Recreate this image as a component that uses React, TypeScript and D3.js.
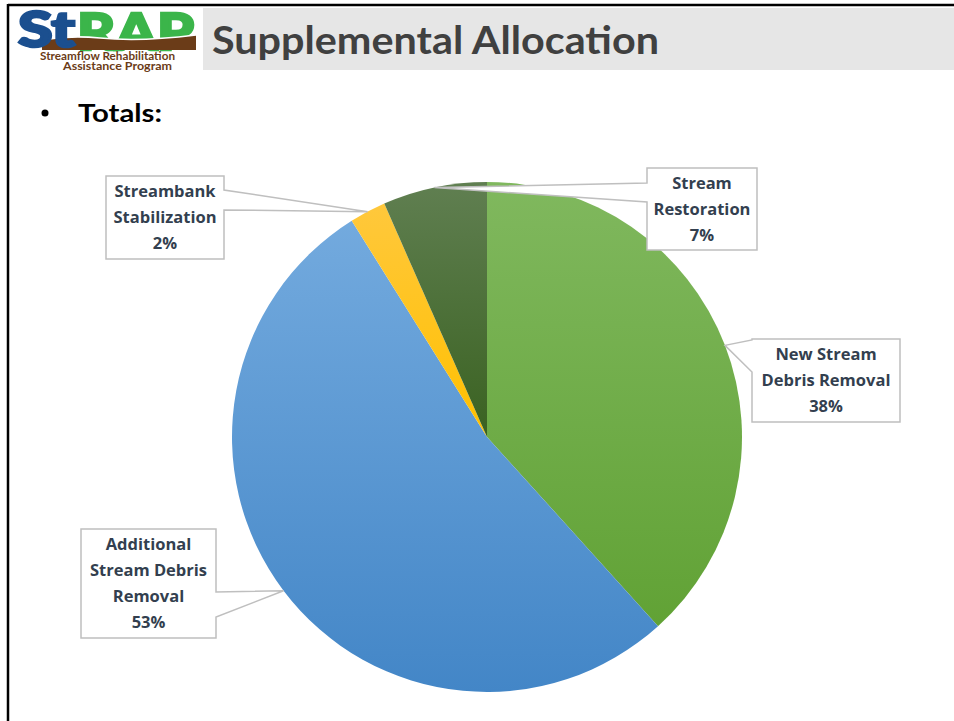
import React from "react";
import * as d3 from "d3";

const categories = [
  "New Stream Debris Removal",
  "Additional Stream Debris Removal",
  "Streambank Stabilization",
  "Stream Restoration",
];
const values = [38.3, 52.8, 2.3, 6.6];
const labelLines = [
  ["New Stream", "Debris Removal"],
  ["Additional", "Stream Debris", "Removal"],
  ["Streambank", "Stabilization"],
  ["Stream", "Restoration"],
];
const gradTop = ["#80b85e", "#73aade", "#ffc83c", "#607f51"];
const gradBottom = ["#61a235", "#4386c7", "#ffc000", "#3a6221"];

// callout layout: box and wedge base on an edge
const callouts = [
  { x: 752, y: 339, w: 148, h: 83, side: "left", a1: 340, a2: 372 },
  { x: 81, y: 529, w: 135, h: 109, side: "right", a1: 592, a2: 617 },
  { x: 106, y: 176, w: 118, h: 83, side: "right", a1: 190, a2: 210 },
  { x: 647, y: 168, w: 110, h: 82, side: "left", a1: 183, a2: 202 },
];

const W = 954;
const H = 721;
const cx = 487;
const cy = 437;
const R = 255;

export default function App() {
  const total = d3.sum(values);
  const pie = d3.pie<number>().sort(null).value((d) => d);
  const arcs = pie(values);
  const arc = d3.arc<d3.PieArcDatum<number>>().innerRadius(0).outerRadius(R);
  const edge = d3.arc<d3.PieArcDatum<number>>().innerRadius(R).outerRadius(R);
  const font = "Lato, 'Open Sans', sans-serif";
  const labelFont = "'Open Sans', Lato, sans-serif";
  const textColor = "#333f4f";

  return (
    <svg
      width={W}
      height={H}
      style={{ position: "absolute", left: 0, top: 0, background: "#fff" }}
    >
      <defs>
        {arcs.map((a, i) => (
          <linearGradient key={i} id={`g${i}`} x1="0" y1="0" x2="0" y2="1">
            <stop offset="0" stopColor={gradTop[i]} />
            <stop offset="1" stopColor={gradBottom[i]} />
          </linearGradient>
        ))}
      </defs>

      {/* slide frame */}
      <rect x={0} y={0} width={W} height={H} fill="#fff" />
      <line x1={8} y1={5} x2={W} y2={5} stroke="#000" strokeWidth={2.5} />
      <line x1={8} y1={4} x2={8} y2={H} stroke="#000" strokeWidth={2.5} />

      {/* title band */}
      <rect x={203} y={8} width={W - 203} height={62} fill="#e6e6e6" />
      <text
        x={212}
        y={54}
        fontFamily={font}
        fontWeight={700}
        fontSize={39}
        fill="#404040"
        textLength={447}
        lengthAdjust="spacingAndGlyphs"
      >
        Supplemental Allocation
      </text>

      {/* logo */}
      <g>
        <text
          x={77}
          y={50}
          fontFamily={font}
          fontWeight={900}
          fontSize={52}
          fill="#3bb54a"
          stroke="#3bb54a"
          strokeWidth={2.5}
          textLength={117}
          lengthAdjust="spacingAndGlyphs"
        >
          RAP
        </text>
        <path
          d="M42,40 Q70,35 100,38 Q140,42 196,35 L196,50 L42,50 Z"
          fill="#6b3c18"
        />
        <path
          d="M42,40 Q70,35 100,38 Q140,42 196,35"
          fill="none"
          stroke="#fff"
          strokeWidth={1.5}
        />
        <text
          x={18}
          y={47}
          fontFamily={font}
          fontWeight={900}
          fontSize={50}
          fill="#1b4f8f"
          stroke="#1b4f8f"
          strokeWidth={2.5}
          textLength={57}
          lengthAdjust="spacingAndGlyphs"
        >
          St
        </text>
        <text
          x={40}
          y={60}
          fontFamily={font}
          fontWeight={700}
          fontSize={10.5}
          fill="#6b3c18"
          textLength={135}
          lengthAdjust="spacingAndGlyphs"
        >
          Streamflow Rehabilitation
        </text>
        <text
          x={63}
          y={70}
          fontFamily={font}
          fontWeight={700}
          fontSize={10.5}
          fill="#6b3c18"
          textLength={109}
          lengthAdjust="spacingAndGlyphs"
        >
          Assistance Program
        </text>
      </g>

      {/* bullet */}
      <circle cx={45} cy={113} r={3.5} fill="#000" />
      <text
        x={78}
        y={122}
        fontFamily={font}
        fontWeight={700}
        fontSize={25}
        fill="#000"
        textLength={84}
        lengthAdjust="spacingAndGlyphs"
      >
        Totals:
      </text>

      {/* pie */}
      <g transform={`translate(${cx},${cy})`}>
        {arcs.map((a, i) => (
          <path key={i} d={arc(a) || ""} fill={`url(#g${i})`} />
        ))}
      </g>

      {/* callouts */}
      {arcs.map((a, i) => {
        const c = callouts[i];
        const [tx, ty] = edge.centroid(a);
        const tipX = cx + tx;
        const tipY = cy + ty;
        const x0 = c.x;
        const x1 = c.x + c.w;
        const y0 = c.y;
        const y1 = c.y + c.h;
        let d = "";
        if (c.side === "left") {
          d = `M${x0},${y0} L${x1},${y0} L${x1},${y1} L${x0},${y1} L${x0},${c.a2} L${tipX},${tipY} L${x0},${c.a1} Z`;
        } else {
          d = `M${x0},${y0} L${x1},${y0} L${x1},${c.a1} L${tipX},${tipY} L${x1},${c.a2} L${x1},${y1} L${x0},${y1} Z`;
        }
        const lines = [
          ...labelLines[i],
          `${Math.round((values[i] / total) * 100)}%`,
        ];
        const lh = 26;
        const midY = c.y + c.h / 2;
        const startY = midY - ((lines.length - 1) * lh) / 2;
        return (
          <g key={i}>
            <path d={d} fill="#fff" stroke="#bfbfbf" strokeWidth={1.5} />
            {lines.map((t, j) => (
              <text
                key={j}
                x={c.x + c.w / 2}
                y={startY + j * lh}
                dy="0.36em"
                textAnchor="middle"
                fontFamily={labelFont}
                fontWeight={700}
                fontSize={16.5}
                fill={textColor}
              >
                {t}
              </text>
            ))}
          </g>
        );
      })}
    </svg>
  );
}
